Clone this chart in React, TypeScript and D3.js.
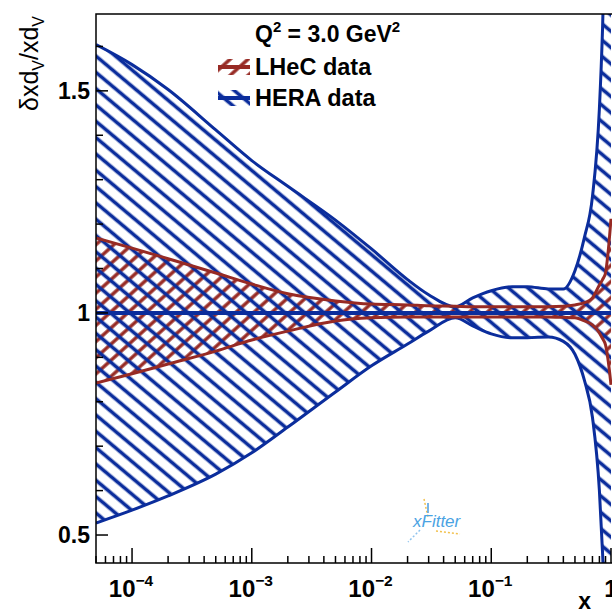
import React from "react";
import * as d3 from "d3";

// x grid (Bjorken x) and band edges
const xGrid = [5e-5, 1e-4, 2e-4, 5e-4, 1e-3, 2e-3, 5e-3, 1e-2, 2e-2, 3e-2, 5e-2, 7e-2, 0.1, 0.15, 0.2, 0.3, 0.4, 0.5, 0.6, 0.7, 0.8, 0.85, 0.9, 0.95, 1];
const heraUp = [1.604, 1.559, 1.503, 1.412, 1.343, 1.285, 1.209, 1.144, 1.075, 1.041, 1.014, 1.034, 1.05, 1.059, 1.059, 1.054, 1.054, 1.095, 1.17, 1.262, 1.46, 1.64, 1.9, 2.2, 2.5];
const heraLo = [0.527, 0.556, 0.588, 0.637, 0.685, 0.743, 0.822, 0.881, 0.93, 0.959, 0.989, 0.971, 0.953, 0.944, 0.944, 0.946, 0.936, 0.907, 0.848, 0.765, 0.6, 0.46, 0.3, 0.15, 0];
const lhecUp = [1.169, 1.146, 1.122, 1.09, 1.065, 1.043, 1.027, 1.02, 1.018, 1.016, 1.015, 1.014, 1.014, 1.014, 1.014, 1.014, 1.015, 1.018, 1.023, 1.034, 1.063, 1.075, 1.09, 1.142, 1.212];
const lhecLo = [0.842, 0.863, 0.885, 0.914, 0.939, 0.959, 0.982, 0.989, 0.991, 0.991, 0.991, 0.991, 0.991, 0.991, 0.991, 0.991, 0.99, 0.989, 0.982, 0.973, 0.955, 0.942, 0.928, 0.89, 0.838];
const central = 1;

const yLabels = ["0.5", "1", "1.5"];
const legendLabels = ["LHeC data", "HERA data"];

const W = 612;
const H = 613;
const BLUE = "#0b2d9c";
const RED = "#972a24";
const FONT = "'Liberation Sans', Arial, sans-serif";

export default function App() {
  const x = d3.scaleLog().domain([5e-5, 1]).range([96, 611]);
  const y = d3.scaleLinear().domain([0.437, 1.673]).range([563, 14]);
  const left = 96, top = 14, bottom = 563, right = 612;

  const band = (up: number[], lo: number[]) =>
    d3
      .area<number>()
      .x((d) => x(d))
      .y0((_, i) => y(lo[i]))
      .y1((_, i) => y(up[i]))
      .curve(d3.curveMonotoneX)(xGrid) as string;

  const edge = (vals: number[]) =>
    d3
      .line<number>()
      .x((d) => x(d))
      .y((_, i) => y(vals[i]))
      .curve(d3.curveMonotoneX)(xGrid) as string;

  const flat = d3
    .line<number>()
    .x((d) => x(d))
    .y(() => y(central))(xGrid) as string;

  const xTicks = x.ticks().filter((t) => t >= 5e-5 && t <= 1);
  const isMajor = (t: number) => Math.abs(Math.log10(t) - Math.round(Math.log10(t))) < 1e-9;
  const yTicks = y.ticks(12);

  return (
    <svg
      width={W}
      height={H}
      style={{ position: "absolute", left: 0, top: 0, background: "#fff" }}
      fontFamily={FONT}
    >
      <defs>
        <pattern id="hBlue" patternUnits="userSpaceOnUse" width="30" height="12.5" patternTransform="rotate(40)">
          <line x1="0" y1="6.25" x2="30" y2="6.25" stroke={BLUE} strokeWidth="3.6" />
        </pattern>
        <pattern id="hRed" patternUnits="userSpaceOnUse" width="30" height="12" patternTransform="rotate(-42)">
          <line x1="0" y1="6" x2="30" y2="6" stroke={RED} strokeWidth="3.4" />
        </pattern>
        <clipPath id="plot">
          <rect x={left} y={top} width={right - left} height={bottom - top} />
        </clipPath>
      </defs>

      <g clipPath="url(#plot)">
        <path d={band(lhecUp, lhecLo)} fill="url(#hRed)" />
        <path d={band(heraUp, heraLo)} fill="url(#hBlue)" />
        <path d={edge(heraUp)} fill="none" stroke={BLUE} strokeWidth={3} />
        <path d={edge(heraLo)} fill="none" stroke={BLUE} strokeWidth={3} />
        <path d={edge(lhecUp)} fill="none" stroke={RED} strokeWidth={3} />
        <path d={edge(lhecLo)} fill="none" stroke={RED} strokeWidth={3} />
        <path d={flat} fill="none" stroke={BLUE} strokeWidth={4} />
      </g>

      {/* frame */}
      <path d={`M${right},${top}H${left}V${bottom}H${right}`} fill="none" stroke="#000" strokeWidth={1.5} />

      {/* y axis */}
      {yTicks.map((t) => {
        const major = Math.abs(t * 2 - Math.round(t * 2)) < 1e-9;
        return (
          <g key={"y" + t}>
            <line x1={left} x2={left + (major ? 12 : 7)} y1={y(t)} y2={y(t)} stroke="#000" strokeWidth={1.5} />
            {major && (
              <text x={90} y={y(t) + 8} textAnchor="end" fontSize={23} fontWeight="bold">
                {yLabels[Math.round(t * 2) - 1]}
              </text>
            )}
          </g>
        );
      })}

      {/* x axis */}
      {xTicks.map((t) => {
        const major = isMajor(t);
        const e = Math.round(Math.log10(t));
        return (
          <g key={"x" + t}>
            <line x1={x(t)} x2={x(t)} y1={bottom} y2={bottom - (major ? 15 : 7)} stroke="#000" strokeWidth={1.5} />
            {major &&
              (e === 0 ? (
                <text x={x(t)} y={597} textAnchor="middle" fontSize={24} fontWeight="bold">1</text>
              ) : (
                <text x={x(t) - 1} y={597} textAnchor="middle" fontSize={24} fontWeight="bold">
                  10
                  <tspan dy={-11} fontSize={15.5}>{"\u2212" + Math.abs(e)}</tspan>
                </text>
              ))}
          </g>
        );
      })}
      <text x={591} y={609} textAnchor="end" fontSize={23} fontWeight="bold">x</text>

      {/* y title */}
      <text transform="translate(38,16) rotate(-90)" textAnchor="end" fontSize={25}>
        δxd<tspan dy={6} fontSize={16}>V</tspan>
        <tspan dy={-6}>/xd</tspan>
        <tspan dy={6} fontSize={16}>V</tspan>
      </text>

      {/* legend */}
      <text x={255} y={42} fontSize={23} fontWeight="bold">
        Q<tspan dy={-10} fontSize={15}>2</tspan>
        <tspan dy={10}> = 3.0 GeV</tspan>
        <tspan dy={-10} fontSize={15}>2</tspan>
      </text>
      {legendLabels.map((lab, i) => {
        const cy = 67 + i * 31;
        const col = i === 0 ? RED : BLUE;
        return (
          <g key={lab}>
            <rect x={218} y={cy - 8} width={32} height={16} fill={i === 0 ? "url(#hRed)" : "url(#hBlue)"} />
            <line x1={218} x2={250} y1={cy} y2={cy} stroke={col} strokeWidth={4} />
            <text x={255} y={cy + 8} fontSize={23.5} fontWeight="bold">{lab}</text>
          </g>
        );
      })}

      {/* xFitter logo */}
      <g>
        <line x1={424} y1={499} x2={428} y2={517} stroke="#f2c14e" strokeWidth={1.5} strokeDasharray="2 2" />
        <line x1={428} y1={503} x2={428} y2={513} stroke="#4a9be0" strokeWidth={1.5} />
        <line x1={420} y1={530} x2={408} y2={542} stroke="#8ec3ee" strokeWidth={1.5} strokeDasharray="2 2" />
        <line x1={436} y1={531} x2={460} y2={534} stroke="#f2c14e" strokeWidth={1.5} strokeDasharray="2 2" />
        <text x={413} y={527} fontSize={17} fontStyle="italic" fill="#4aa3e3">xFitter</text>
      </g>
    </svg>
  );
}
